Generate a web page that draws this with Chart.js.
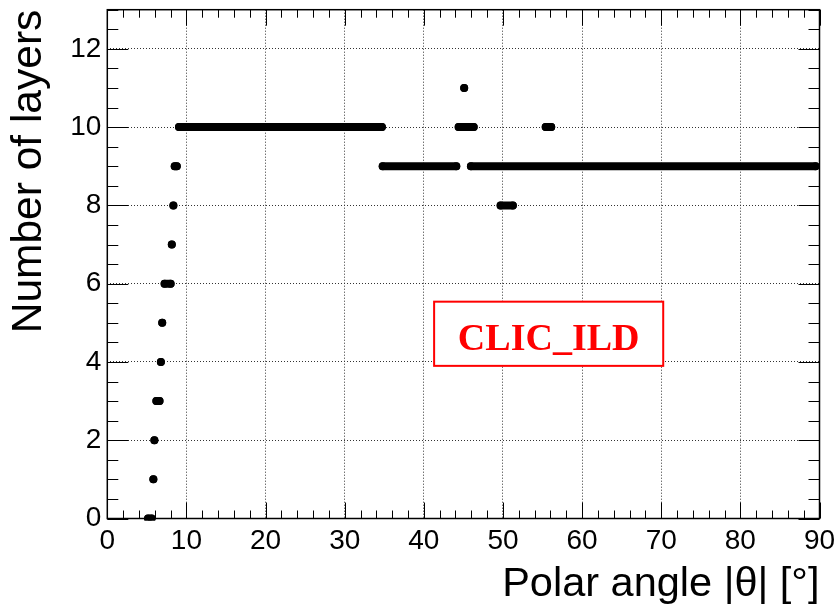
<!DOCTYPE html>
<html>
<head>
<meta charset="utf-8">
<script src="https://cdn.jsdelivr.net/npm/chart.js@4/dist/chart.umd.min.js"></script>
<style>
  html, body { margin: 0; padding: 0; background: #fff; overflow: hidden; }
  canvas { display: block; }
</style>
</head>
<body>
<canvas id="c" width="835" height="607"></canvas>
<script>
// Number of calorimeter layers crossed vs. polar angle.
// Each run of equal layer count is one segment [start, end] in degrees.
const segStart  = [5.15, 5.82, 5.95, 6.2, 6.77, 6.94, 7.24, 8.15, 8.35, 8.52, 9.06, 34.8, 44.4, 45.1, 45.95, 49.7, 55.4];
const segEnd    = [5.6,  5.82, 5.95, 6.6, 6.77, 6.94, 8.0,  8.15, 8.35, 8.78, 34.7, 44.1, 46.3, 45.1, 89.5,  51.25, 56.1];
const segLayers = [0,    1,    2,    3,   4,    5,    6,    7,    8,    9,    10,   9,    10,   11,   9,     8,     10];

const xTicks = [0, 10, 20, 30, 40, 50, 60, 70, 80, 90];
const yTicks = [0, 2, 4, 6, 8, 10, 12];
const xMinorStep = 2;
const yMinorStep = 0.5;

const xTitle = 'Polar angle |\u03B8| [\u00B0]';
const yTitle = 'Number of layers';
const detectorLabel = 'CLIC_ILD';

// Build the line points; a null y ends one segment before the next begins.
const points = [];
segStart.forEach((s, i) => {
  points.push({ x: s, y: segLayers[i] });
  if (segEnd[i] !== s) points.push({ x: segEnd[i], y: segLayers[i] });
  points.push({ x: segEnd[i], y: null });
});

// ROOT-like frame: box on four sides with inward major/minor ticks, plus the detector tag.
const framePlugin = {
  id: 'rootFrame',
  afterDraw(chart) {
    const { ctx, chartArea: a, scales: { x, y } } = chart;
    ctx.save();
    ctx.strokeStyle = '#000';
    ctx.lineWidth = 1;
    ctx.beginPath();
    const nx = Math.round((x.max - x.min) / xMinorStep);
    for (let i = 0; i <= nx; i++) {
      const v = x.min + i * xMinorStep;
      const px = Math.round(x.getPixelForValue(v)) + 0.5;
      const L = xTicks.includes(v) ? 16 : 8;
      ctx.moveTo(px, a.bottom); ctx.lineTo(px, a.bottom - L);
      ctx.moveTo(px, a.top);    ctx.lineTo(px, a.top + L);
    }
    const ny = Math.round((y.max - y.min) / yMinorStep);
    for (let i = 0; i <= ny; i++) {
      const v = y.min + i * yMinorStep;
      const py = Math.round(y.getPixelForValue(v)) + 0.5;
      const L = yTicks.includes(v) ? 21 : 11;
      ctx.moveTo(a.left, py);  ctx.lineTo(a.left + L, py);
      ctx.moveTo(a.right, py); ctx.lineTo(a.right - L, py);
    }
    ctx.stroke();

    ctx.lineWidth = 1.5;
    ctx.strokeRect(a.left, a.top, a.right - a.left, a.bottom - a.top);

    // detector tag box, placed in data coordinates
    const bx0 = x.getPixelForValue(41.3), bx1 = x.getPixelForValue(70.25);
    const by0 = y.getPixelForValue(5.54), by1 = y.getPixelForValue(3.9);
    ctx.fillStyle = '#fff';
    ctx.fillRect(bx0, by0, bx1 - bx0, by1 - by0);
    ctx.strokeStyle = '#ff0000';
    ctx.lineWidth = 2;
    ctx.strokeRect(bx0, by0, bx1 - bx0, by1 - by0);
    ctx.fillStyle = '#ff0000';
    ctx.font = 'bold 38px "Liberation Serif", "Times New Roman", serif';
    ctx.textAlign = 'center';
    ctx.textBaseline = 'alphabetic';
    ctx.fillText(detectorLabel, (bx0 + bx1) / 2, by1 - 16);
    ctx.restore();
  }
};

const tickFont = { family: '"Liberation Sans", Arial, sans-serif', size: 28 };
const titleFontFamily = '"Liberation Sans", Arial, sans-serif';

new Chart(document.getElementById('c'), {
  type: 'scatter',
  data: {
    datasets: [{
      data: points,
      showLine: true,
      spanGaps: false,
      borderColor: '#000',
      borderWidth: 8,
      borderCapStyle: 'round',
      borderJoinStyle: 'round',
      backgroundColor: '#000',
      pointRadius: 4,
      pointBorderWidth: 0,
      pointBackgroundColor: '#000',
      clip: 2
    }]
  },
  options: {
    responsive: false,
    devicePixelRatio: 1,
    animation: false,
    events: [],
    layout: { autoPadding: false, padding: { top: 9.7, right: 15.5, left: 0, bottom: 0 } },
    plugins: { legend: { display: false }, tooltip: { enabled: false } },
    scales: {
      x: {
        type: 'linear',
        min: 0, max: 90,
        afterFit(scale) {
          scale.height = 88.5;
          scale.paddingLeft = 0; scale.paddingRight = 0;
        },
        afterBuildTicks(scale) { scale.ticks = xTicks.map(v => ({ value: v })); },
        ticks: { font: tickFont, color: '#000', padding: 6, maxRotation: 0, autoSkip: false },
        grid: { color: '#333', lineWidth: 1, drawTicks: false },
        border: { display: false, dash: [1, 2] },
        title: {
          display: true, text: xTitle, align: 'end', color: '#000',
          font: { family: titleFontFamily, size: 41.5, lineHeight: 1 },
          padding: { top: 0, bottom: 2 }
        }
      },
      y: {
        type: 'linear',
        min: 0, max: 13,
        afterFit(scale) {
          scale.width = 107.3;
          scale.paddingTop = 0; scale.paddingBottom = 0;
        },
        afterBuildTicks(scale) { scale.ticks = yTicks.map(v => ({ value: v })); },
        ticks: { font: tickFont, color: '#000', padding: 6 },
        grid: { color: '#333', lineWidth: 1, drawTicks: false },
        border: { display: false, dash: [1, 2] },
        title: {
          display: true, text: yTitle, align: 'end', color: '#000',
          font: { family: titleFontFamily, size: 42.5, lineHeight: 1 },
          padding: { top: 8.5, bottom: 0 }
        }
      }
    }
  },
  plugins: [framePlugin]
});
</script>
</body>
</html>
